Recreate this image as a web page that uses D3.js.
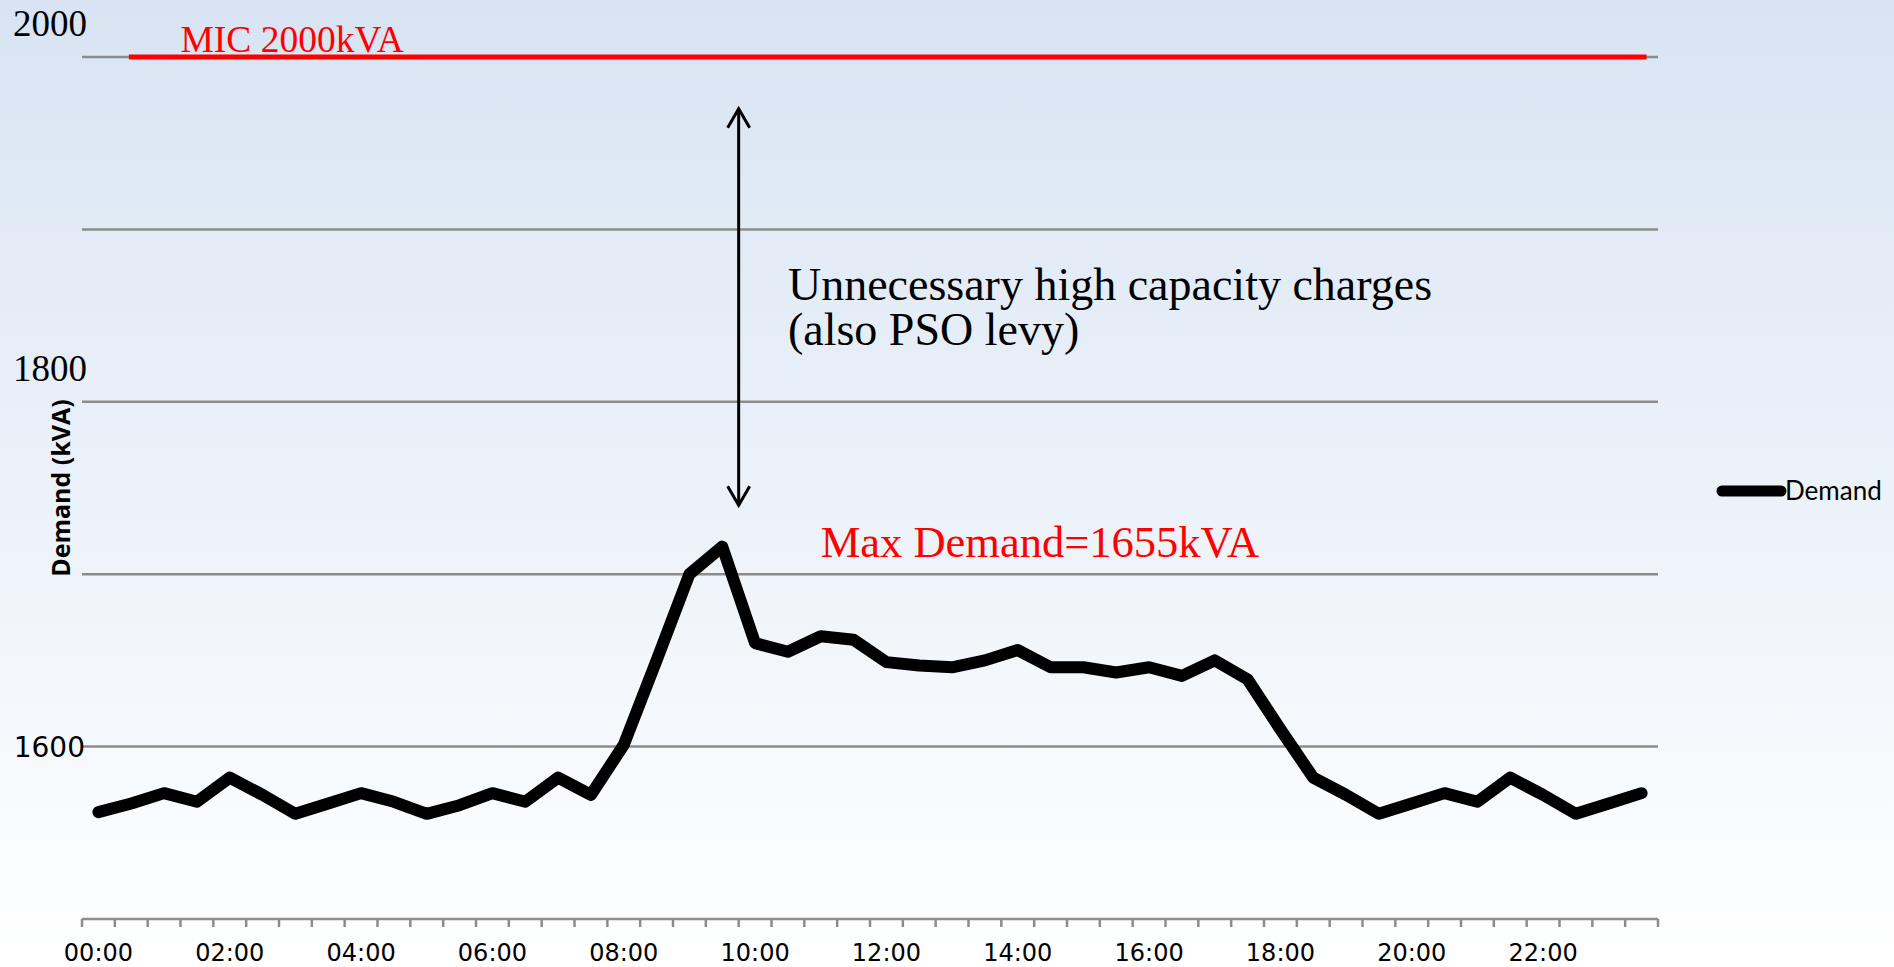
<!DOCTYPE html>
<html>
<head>
<meta charset="utf-8">
<script src="https://cdn.jsdelivr.net/npm/d3@7"></script>
<style>
  html, body { margin: 0; padding: 0; background: #fff; }
  svg { display: block; }
</style>
</head>
<body>
<svg id="chart"></svg>
<script>
const width = 1894;
const height = 967;
const margin = { top: 57, right: 236, bottom: 48, left: 82 };

// half-hour slots, labelled every 2 hours
const times = [
  "00:00", "00:30", "01:00", "01:30", "02:00", "02:30", "03:00", "03:30",
  "04:00", "04:30", "05:00", "05:30", "06:00", "06:30", "07:00", "07:30",
  "08:00", "08:30", "09:00", "09:30", "10:00", "10:30", "11:00", "11:30",
  "12:00", "12:30", "13:00", "13:30", "14:00", "14:30", "15:00", "15:30",
  "16:00", "16:30", "17:00", "17:30", "18:00", "18:30", "19:00", "19:30",
  "20:00", "20:30", "21:00", "21:30", "22:00", "22:30", "23:00", "23:30",
];
const timeLabels = ["00:00", "02:00", "04:00", "06:00", "08:00", "10:00",
  "12:00", "14:00", "16:00", "18:00", "20:00", "22:00"];

// demand in kVA
const demand = [
  1581, 1583.5, 1586.5, 1584, 1591, 1586, 1580.5, 1583.5,
  1586.5, 1584, 1580.5, 1583, 1586.5, 1584, 1591, 1586,
  1600.5, 1625, 1650, 1658, 1630, 1627.5, 1632, 1631,
  1624.5, 1623.5, 1623, 1625, 1628, 1623, 1623, 1621.5,
  1623, 1620.5, 1625, 1619.5, 1605, 1591, 1586, 1580.5,
  1583.5, 1586.5, 1584, 1591, 1586, 1580.5, 1583.5, 1586.5,
];

const gridValues = [1600, 1650, 1700, 1750, 1800];
const yMin = 1550;
const yMax = 1800;

const svg = d3.select("#chart").attr("width", width).attr("height", height);

// background gradient
const defs = svg.append("defs");
const grad = defs.append("linearGradient")
  .attr("id", "bg").attr("x1", 0).attr("y1", 0).attr("x2", 0).attr("y2", 1);
grad.append("stop").attr("offset", "0%").attr("stop-color", "#d8e4f3");
grad.append("stop").attr("offset", "100%").attr("stop-color", "#ffffff");
svg.append("rect").attr("width", width).attr("height", height).attr("fill", "url(#bg)");

const x = d3.scaleBand()
  .domain(times)
  .range([margin.left, width - margin.right]);

const y = d3.scaleLinear()
  .domain([yMin, yMax])
  .range([height - margin.bottom, margin.top]);

const cx = (t) => x(t) + x.bandwidth() / 2;

// gridlines
svg.append("g")
  .selectAll("line")
  .data(gridValues)
  .enter()
  .append("line")
  .attr("x1", margin.left)
  .attr("x2", width - margin.right)
  .attr("y1", (d) => y(d))
  .attr("y2", (d) => y(d))
  .attr("stroke", "#8c8c8c")
  .attr("stroke-width", 2.5);

// x axis: line, ticks on slot edges, labels centred on slots
const edges = times.map((t) => x(t)).concat([x.range()[1]]);
const xg = svg.append("g").attr("class", "x-axis");
xg.append("line")
  .attr("x1", margin.left)
  .attr("x2", width - margin.right)
  .attr("y1", y(yMin))
  .attr("y2", y(yMin))
  .attr("stroke", "#8c8c8c")
  .attr("stroke-width", 2.5);
xg.selectAll(".tick-mark")
  .data(edges)
  .enter()
  .append("line")
  .attr("class", "tick-mark")
  .attr("x1", (d) => d)
  .attr("x2", (d) => d)
  .attr("y1", y(yMin))
  .attr("y2", y(yMin) + 8)
  .attr("stroke", "#8c8c8c")
  .attr("stroke-width", 2.5);

const xAxis = d3.axisBottom(x).tickValues(timeLabels).tickSize(0).tickPadding(25);
const xLab = svg.append("g")
  .attr("transform", `translate(0, ${y(yMin)})`)
  .call(xAxis);
xLab.select(".domain").remove();
xLab.selectAll("text")
  .style("font-family", "'DejaVu Sans', sans-serif")
  .style("font-size", "24px")
  .attr("fill", "#000");

// y tick label (only 1600 is a real axis label)
svg.append("text")
  .attr("x", 85)
  .attr("y", y(1600))
  .attr("dy", "0.36em")
  .attr("text-anchor", "end")
  .style("font-family", "'DejaVu Sans', sans-serif")
  .style("font-size", "28px")
  .text("1600");

// serif overlay labels placed above the 1800 and 1700 gridlines
const overlayLabels = [
  { value: 1800, text: "2000" },
  { value: 1700, text: "1800" },
];
svg.append("g")
  .selectAll("text")
  .data(overlayLabels)
  .enter()
  .append("text")
  .attr("x", 13)
  .attr("y", (d) => y(d.value) - 21)
  .style("font-family", "'Liberation Serif', 'Times New Roman', serif")
  .style("font-size", "37px")
  .text((d) => d.text);

// y axis title
svg.append("text")
  .attr("transform", `translate(70, ${y(1675)}) rotate(-90)`)
  .attr("text-anchor", "middle")
  .style("font-family", "'Open Sans', sans-serif")
  .style("font-weight", "bold")
  .style("font-size", "25px")
  .text("Demand (kVA)");

// MIC line and label
svg.append("line")
  .attr("x1", x("00:30") + 14)
  .attr("x2", cx("23:30") + 5)
  .attr("y1", y(1800))
  .attr("y2", y(1800))
  .attr("stroke", "#ff0000")
  .attr("stroke-width", 5);

svg.append("text")
  .attr("x", x("01:30"))
  .attr("y", y(1801.5))
  .attr("fill", "#ff0000")
  .style("font-family", "'Liberation Serif', 'Times New Roman', serif")
  .style("font-size", "37.5px")
  .text("MIC 2000kVA");

// demand line
const line = d3.line()
  .x((d, i) => cx(times[i]))
  .y((d) => y(d));

svg.append("path")
  .datum(demand)
  .attr("d", line)
  .attr("fill", "none")
  .attr("stroke", "#000")
  .attr("stroke-width", 12)
  .attr("stroke-linejoin", "round")
  .attr("stroke-linecap", "round");

// double-headed arrow between MIC and max demand
const ax = x("10:00");
const yTop = y(1785);
const yBot = y(1670);
const arrow = svg.append("g")
  .attr("stroke", "#000")
  .attr("stroke-width", 3)
  .attr("fill", "none");
arrow.append("line").attr("x1", ax).attr("x2", ax).attr("y1", yTop).attr("y2", yBot);
arrow.append("path").attr("d", `M${ax - 11},${yTop + 19} L${ax},${yTop} L${ax + 11},${yTop + 19}`);
arrow.append("path").attr("d", `M${ax - 11},${yBot - 19} L${ax},${yBot} L${ax + 11},${yBot - 19}`);

// annotation text
const note = svg.append("text")
  .style("font-family", "'Liberation Serif', 'Times New Roman', serif")
  .style("font-size", "46px")
  .attr("fill", "#000");
note.append("tspan").attr("x", cx("10:30")).attr("y", y(1729.5)).text("Unnecessary high capacity charges");
note.append("tspan").attr("x", cx("10:30")).attr("y", y(1716.5)).text("(also PSO levy)");

svg.append("text")
  .attr("x", cx("11:00"))
  .attr("y", y(1655))
  .attr("fill", "#ff0000")
  .style("font-family", "'Liberation Serif', 'Times New Roman', serif")
  .style("font-size", "44.5px")
  .text("Max Demand=1655kVA");

// legend
const legend = svg.append("g");
legend.append("line")
  .attr("x1", 1722).attr("x2", 1781)
  .attr("y1", 491).attr("y2", 491)
  .attr("stroke", "#000")
  .attr("stroke-width", 11)
  .attr("stroke-linecap", "round");
legend.append("text")
  .attr("x", 1785)
  .attr("y", 500)
  .style("font-family", "Lato, 'Open Sans', sans-serif")
  .style("font-size", "26px")
  .text("Demand");
</script>
</body>
</html>
